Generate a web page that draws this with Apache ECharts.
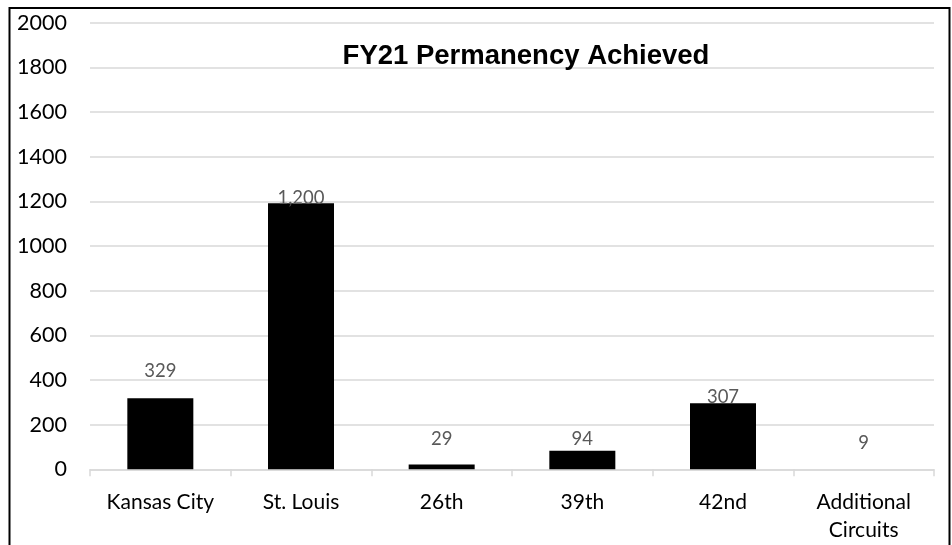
<!DOCTYPE html>
<html>
<head>
<meta charset="utf-8">
<script src="https://cdn.jsdelivr.net/npm/echarts@6/dist/echarts.min.js"></script>
<style>
html,body{margin:0;padding:0;background:#fff;}
#chart{width:952px;height:545px;}
</style>
</head>
<body>
<div id="chart"></div>
<script>
const categories = ['Kansas City', 'St. Louis', '26th', '39th', '42nd', 'Additional\nCircuits'];
const barValues = [318, 1191, 21, 83, 296, 0];
const labelTexts = ['329', '1,200', '29', '94', '307', '9'];
const yTicks = [0, 200, 400, 600, 800, 1000, 1200, 1400, 1600, 1800, 2000];
const titleText = 'FY21 Permanency Achieved';

// label lift above bar top (px), style only
const labelLift = [27, 5, 26, 12, 6, 26];

const chart = echarts.init(document.getElementById('chart'), null, {renderer: 'canvas'});
chart.setOption({
  animation: false,
  backgroundColor: '#fff',
  title: {
    text: titleText,
    left: 521,
    top: 37,
    textAlign: 'center',
    textStyle: {fontFamily: 'Liberation Sans', fontWeight: 'bold', fontSize: 27.5, color: '#000'}
  },
  graphic: [{
    type: 'rect',
    shape: {x: 9.5, y: 8, width: 940, height: 560},
    style: {fill: 'none', stroke: '#000', lineWidth: 2},
    silent: true
  }],
  grid: {left: 90, right: 18, top: 22.7, bottom: 75.7, containLabel: false},
  xAxis: {
    type: 'category',
    data: categories,
    axisLine: {show: true, lineStyle: {color: '#d9d9d9', width: 1.5}},
    axisTick: {show: true, length: 7, alignWithLabel: false, lineStyle: {color: '#d9d9d9', width: 1.5}},
    axisLabel: {fontFamily: 'Lato', fontSize: 21, color: '#000', margin: 19, lineHeight: 28, interval: 0},
    splitLine: {show: false}
  },
  yAxis: {
    type: 'value',
    min: yTicks[0],
    max: yTicks[yTicks.length - 1],
    interval: 200,
    axisLine: {show: false},
    axisTick: {show: false},
    axisLabel: {fontFamily: 'Lato', fontSize: 21.5, color: '#000', margin: 23, formatter: v => String(v)},
    splitLine: {show: true, lineStyle: {color: '#d9d9d9', width: 1.5}}
  },
  series: [{
    type: 'bar',
    data: barValues.map((v, i) => ({
      value: v,
      label: {
        show: true,
        position: ['50%', -labelLift[i]],
        align: 'center',
        verticalAlign: 'middle',
        formatter: () => labelTexts[i]
      }
    })),
    barWidth: 66,
    itemStyle: {color: '#000'},
    label: {fontFamily: 'Lato', fontSize: 18.5, color: '#595959'}
  }]
});
</script>
</body>
</html>
